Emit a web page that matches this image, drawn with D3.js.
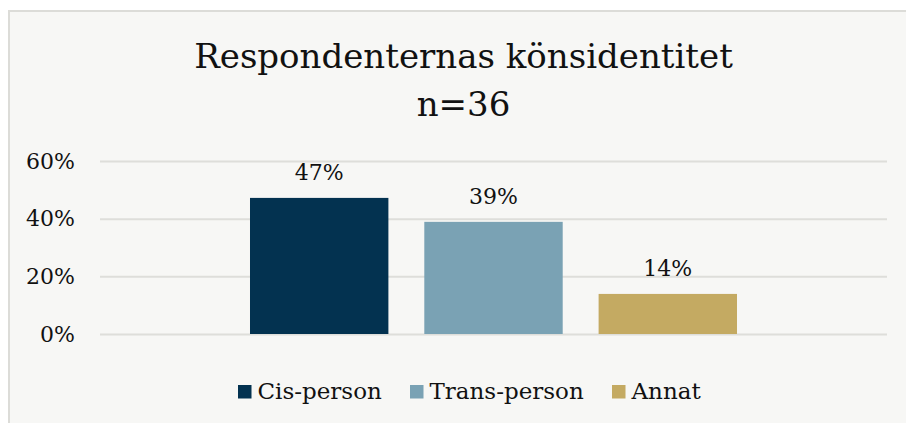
<!DOCTYPE html>
<html>
<head>
<meta charset="utf-8">
<script src="https://cdn.jsdelivr.net/npm/d3@7"></script>
<style>
  body { margin: 0; background: #ffffff; }
  svg { display: block; }
  text { font-family: 'DejaVu Serif', serif; fill: #111; }
</style>
</head>
<body>
<div id="chart"></div>
<script>
// data
const categories = [''];
const seriesNames = ['Cis-person', 'Trans-person', 'Annat'];
const seriesValues = [0.472, 0.389, 0.139];
const seriesColors = ['#033250', '#7aa2b4', '#c4aa62'];
const yTicks = [0, 0.2, 0.4, 0.6];
const titleLines = ['Respondenternas könsidentitet', 'n=36'];

const svg_width = 906;
const svg_height = 423;
const margin = {top: 161, right: 19, bottom: 88, left: 100};
const chart_width = svg_width - margin.left - margin.right;
const chart_height = 334 - margin.top;

const svg = d3.select('#chart').append('svg')
  .attr('width', svg_width).attr('height', svg_height);

// card background
svg.append('rect')
  .attr('x', 9).attr('y', 11)
  .attr('width', svg_width + 10).attr('height', svg_height)
  .attr('fill', '#f7f7f5')
  .attr('stroke', '#dcdcd8').attr('stroke-width', 2);

// title
const title = svg.append('text')
  .attr('text-anchor', 'middle')
  .style('font-size', '34px');
title.selectAll('tspan').data(titleLines).join('tspan')
  .attr('x', (margin.left + margin.left + chart_width) / 2 - 30)
  .attr('y', (d, i) => 68 + i * 47.5)
  .text(d => d);

const g = svg.append('g').attr('transform', `translate(${margin.left},${margin.top})`);

// scales
const yScale = d3.scaleLinear().domain([0, 0.6]).range([chart_height, 0]);
const x0 = d3.scaleBand().domain(categories).range([0, chart_width])
  .paddingInner(0).paddingOuter(0.308);
const x1 = d3.scaleBand().domain(seriesNames).range([0, x0.bandwidth()])
  .paddingInner(0.206).paddingOuter(0);
const color = d3.scaleOrdinal().domain(seriesNames).range(seriesColors);

// gridlines + y axis
const yAxis = d3.axisLeft(yScale)
  .tickValues(yTicks)
  .tickFormat(d3.format('.0%'))
  .tickSizeInner(-chart_width)
  .tickSizeOuter(0)
  .tickPadding(25);
const yAxisDraw = g.append('g').attr('class', 'y axis').call(yAxis);
yAxisDraw.select('.domain').remove();
yAxisDraw.selectAll('line').attr('stroke', '#dededa').attr('stroke-width', 2);
yAxisDraw.selectAll('text')
  .style('font-size', '22px')
  .style('font-family', "'DejaVu Serif', serif")
  .attr('fill', '#111');

// bars
const rows = seriesNames.map((name, i) => ({name: name, value: seriesValues[i]}));
const group = g.append('g').attr('transform', `translate(${x0('')},0)`);
group.selectAll('.bar').data(rows).join('rect')
  .attr('class', 'bar')
  .attr('x', d => x1(d.name))
  .attr('y', d => yScale(d.value))
  .attr('width', x1.bandwidth())
  .attr('height', d => chart_height - yScale(d.value))
  .attr('fill', d => color(d.name));

group.selectAll('.label').data(rows).join('text')
  .attr('class', 'label')
  .attr('x', d => x1(d.name) + x1.bandwidth() / 2)
  .attr('y', d => yScale(d.value) - 18)
  .attr('text-anchor', 'middle')
  .style('font-size', '22px')
  .text(d => d3.format('.0%')(d.value));

// legend
const legendX = [238, 410, 612];
const legend = svg.append('g').attr('class', 'legend');
const items = legend.selectAll('g').data(seriesNames).join('g')
  .attr('transform', (d, i) => `translate(${legendX[i]},385)`);
items.append('rect')
  .attr('width', 13.5).attr('height', 13.5)
  .attr('fill', d => color(d));
items.append('text')
  .attr('x', 19.5).attr('y', 14)
  .style('font-size', '23px')
  .text(d => d);
</script>
</body>
</html>
